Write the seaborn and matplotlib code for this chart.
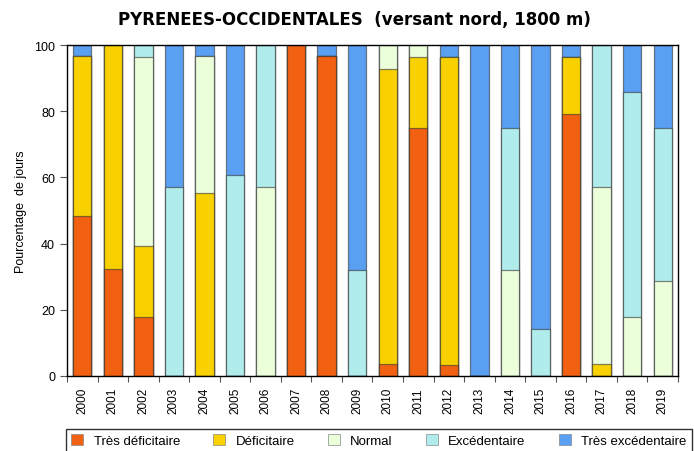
import matplotlib.pyplot as plt
import numpy as np
import pandas as pd
import seaborn as sns
from matplotlib.patches import Patch


YEARS = [str(y) for y in range(2000, 2020)]

# pourcentage de jours par classe
TRES_DEFICITAIRE = [48.3, 32.2, 17.9, 0, 0, 0, 0, 100, 96.6, 0,
                    3.6, 75.0, 3.4, 0, 0, 0, 79.3, 0, 0, 0]
DEFICITAIRE = [48.3, 67.8, 21.4, 0, 55.2, 0, 0, 0, 0, 0,
               89.3, 21.4, 93.1, 0, 0, 0, 17.2, 3.6, 0, 0]
NORMAL = [0, 0, 57.1, 0, 41.4, 0, 57.1, 0, 0, 0,
          7.1, 3.6, 0, 0, 32.1, 0, 0, 53.6, 17.9, 28.6]
EXCEDENTAIRE = [0, 0, 3.6, 57.1, 0, 60.7, 42.9, 0, 0, 32.1,
                0, 0, 0, 0, 42.9, 14.3, 0, 42.9, 67.9, 46.4]
TRES_EXCEDENTAIRE = [3.4, 0, 0, 42.9, 3.4, 39.3, 0, 0, 3.4, 67.9,
                     0, 0, 3.4, 100, 25.0, 85.7, 3.4, 0, 14.3, 25.0]

CLASSES = ["Très déficitaire", "Déficitaire", "Normal", "Excédentaire", "Très excédentaire"]
COLORS = ["#F26112", "#F9D100", "#EBFFDB", "#B0ECEC", "#5AA0F2"]


def main() -> None:
    sns.set_style("ticks")
    plt.rcParams["font.family"] = ["Liberation Sans", "DejaVu Sans"]
    plt.rcParams["text.color"] = "black"
    plt.rcParams["axes.labelcolor"] = "black"
    plt.rcParams["xtick.color"] = "black"
    plt.rcParams["ytick.color"] = "black"

    df = pd.DataFrame(
        {
            "annee": YEARS,
            CLASSES[0]: TRES_DEFICITAIRE,
            CLASSES[1]: DEFICITAIRE,
            CLASSES[2]: NORMAL,
            CLASSES[3]: EXCEDENTAIRE,
            CLASSES[4]: TRES_EXCEDENTAIRE,
        }
    )
    cumul = df[CLASSES].cumsum(axis=1)

    fig = plt.figure(figsize=(6.94, 4.52), dpi=100)
    ax = fig.add_axes([0.0965, 0.166, 0.8804, 0.732])

    # empilement : on dessine les cumuls du plus haut au plus bas
    for name, color in reversed(list(zip(CLASSES, COLORS))):
        sns.barplot(
            x=df["annee"],
            y=cumul[name],
            color=color,
            width=0.6,
            edgecolor=(0.2, 0.2, 0.2, 0.6),
            linewidth=0.9,
            saturation=1,
            ax=ax,
        )

    ax.set_xlim(-0.5, len(YEARS) - 0.5)
    ax.set_ylim(0, 100)
    ax.set_yticks(np.arange(0, 101, 20))
    ax.tick_params(axis="y", labelsize=9, length=5, width=0.8, color="#555555")
    ax.set_xticks(range(len(YEARS)))
    ax.set_xticklabels(YEARS, rotation=90, fontsize=8.5)
    ax.tick_params(axis="x", length=0, pad=8)
    ax.set_xticks(np.arange(-0.5, len(YEARS)), minor=True)
    ax.tick_params(axis="x", which="minor", length=4, width=0.8, color="#555555")
    ax.set_xlabel("")
    ax.set_ylabel("Pourcentage  de jours", fontsize=9, labelpad=5)
    for spine in ax.spines.values():
        spine.set_visible(True)
        spine.set_color("black")
        spine.set_linewidth(1)

    fig.text(
        0.51, 0.955,
        "PYRENEES-OCCIDENTALES  (versant nord, 1800 m)",
        ha="center", va="center", fontsize=12, fontweight="bold",
        family=["DejaVu Sans"], color="black",
    )

    handles = [Patch(facecolor=c, edgecolor="#888888", linewidth=0.5) for c in COLORS]
    leg = fig.legend(
        handles, CLASSES,
        loc="upper left",
        bbox_to_anchor=(0.095, 0, 0.902, 0.049),
        mode="expand",
        ncol=5,
        fontsize=9.5,
        handlelength=0.9,
        handleheight=0.9,
        handletextpad=0.8,
        borderaxespad=0,
        frameon=True,
        fancybox=False,
    )
    leg.get_frame().set_edgecolor("black")
    leg.get_frame().set_linewidth(1)

    fig.savefig("out.png", dpi=100)
    plt.close(fig)


if __name__ == "__main__":
    main()
